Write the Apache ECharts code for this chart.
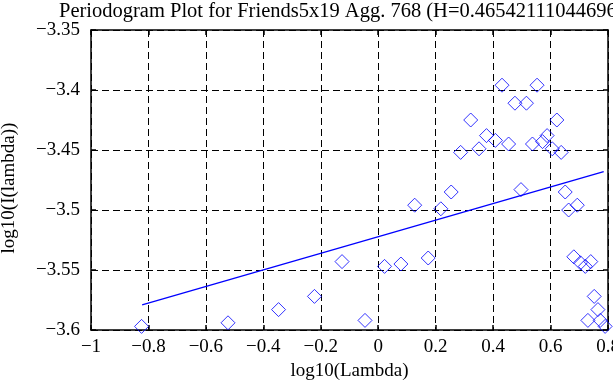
<!DOCTYPE html>
<html>
<head>
<meta charset="utf-8">
<script src="https://cdn.jsdelivr.net/npm/echarts@6/dist/echarts.min.js"></script>
<style>
html,body{margin:0;padding:0;background:#fff;}
#chart{width:613px;height:385px;}
</style>
</head>
<body>
<div id="chart"></div>
<script>
const titleText = 'Periodogram Plot for Friends5x19 Agg. 768 (H=0.46542111044696)';
const xName = 'log10(Lambda)';
const yName = 'log10(I(lambda))';

const logLambda = [-0.824,-0.523,-0.347,-0.222,-0.126,-0.046,0.022,0.079,0.127,0.174,0.218,0.254,0.287,0.322,0.351,0.377,0.408,0.431,0.454,0.476,0.497,0.516,0.537,0.553,0.572,0.588,0.606,0.622,0.637,0.651,0.663,0.681,0.693,0.704,0.721,0.730,0.740,0.752,0.765,0.773,0.790];
const logI = [-3.597,-3.594,-3.583,-3.572,-3.543,-3.592,-3.547,-3.545,-3.496,-3.540,-3.499,-3.485,-3.452,-3.425,-3.449,-3.438,-3.442,-3.396,-3.445,-3.411,-3.483,-3.411,-3.445,-3.396,-3.443,-3.438,-3.449,-3.425,-3.452,-3.485,-3.500,-3.539,-3.496,-3.544,-3.547,-3.592,-3.543,-3.572,-3.583,-3.592,-3.597];

const fitX = [-0.822, 0.785];
const fitY = [-3.579, -3.468];

const xTicks = {min: -1, max: 0.8, interval: 0.2};
const yTicks = {min: -3.6, max: -3.35, interval: 0.05};

const FONT = 'Liberation Serif';
const minus = v => {
  let s = (Math.round(v * 1000) / 1000).toString();
  return s.replace('-', '\u2212');
};

const chart = echarts.init(document.getElementById('chart'), null, {renderer: 'canvas'});

const gridLine = {show: true, lineStyle: {color: '#000', type: [7, 4], width: 1}};
const frameLine = {show: true, onZero: false, lineStyle: {color: '#000', width: 1.5}};
const tickIn = {show: true, inside: true, length: 5, lineStyle: {color: '#000', width: 1.5}};

chart.setOption({
  animation: false,
  backgroundColor: '#fff',
  title: {
    text: titleText,
    left: 54,
    top: -4,
    textStyle: {fontFamily: FONT, fontSize: 20.5, fontWeight: 'normal', color: '#000'}
  },
  grid: {left: 91, right: 5, top: 30, bottom: 55, containLabel: false, outerBoundsMode: 'none'},
  xAxis: [{
    type: 'value', position: 'bottom',
    min: xTicks.min, max: xTicks.max, interval: xTicks.interval,
    name: xName, nameLocation: 'middle', nameGap: 26,
    nameTextStyle: {fontFamily: FONT, fontSize: 19, color: '#000'},
    axisLine: frameLine, axisTick: tickIn,
    axisLabel: {margin: 8, fontFamily: FONT, fontSize: 19, color: '#000', formatter: minus},
    splitLine: gridLine
  }, {
    type: 'value', position: 'top',
    min: xTicks.min, max: xTicks.max, interval: xTicks.interval,
    axisLine: frameLine, axisTick: tickIn,
    axisLabel: {show: false}, splitLine: {show: false}
  }],
  yAxis: [{
    type: 'value', position: 'left',
    min: yTicks.min, max: yTicks.max, interval: yTicks.interval,
    name: yName, nameLocation: 'middle', nameGap: 72, nameRotate: 90,
    nameTextStyle: {fontFamily: FONT, fontSize: 19, color: '#000', padding: [0, 16, 0, 0]},
    axisLine: frameLine, axisTick: tickIn,
    axisLabel: {margin: 11, fontFamily: FONT, fontSize: 19, color: '#000', formatter: minus},
    splitLine: gridLine
  }, {
    type: 'value', position: 'right',
    min: yTicks.min, max: yTicks.max, interval: yTicks.interval,
    axisLine: frameLine, axisTick: tickIn,
    axisLabel: {show: false}, splitLine: {show: false}
  }],
  series: [{
    type: 'scatter',
    data: logLambda.map((x, i) => [x, logI[i]]),
    symbol: 'diamond',
    symbolSize: [14, 14],
    clip: false,
    itemStyle: {color: 'rgba(0,0,0,0)', borderColor: '#0000ff', borderWidth: 1}
  }, {
    type: 'line',
    data: fitX.map((x, i) => [x, fitY[i]]),
    showSymbol: false,
    symbol: 'none',
    lineStyle: {color: '#0000ff', width: 1.3}
  }]
});
</script>
</body>
</html>
